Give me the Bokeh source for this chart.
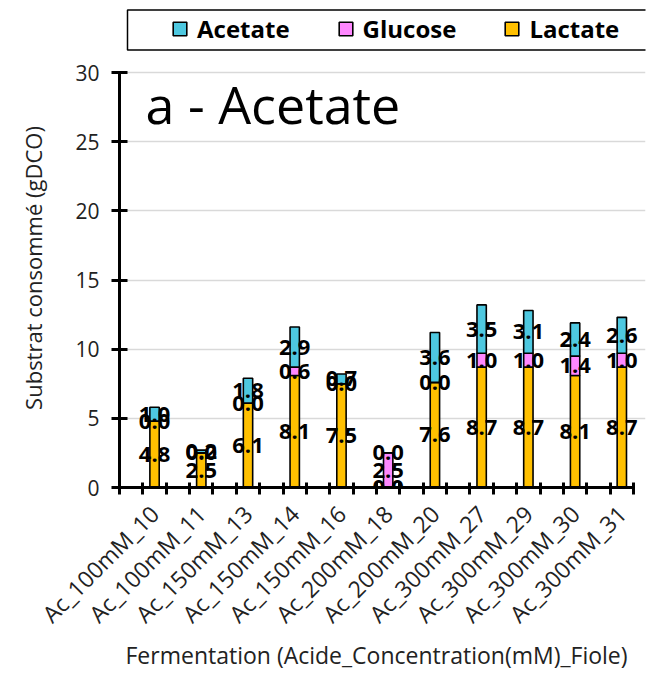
import math
from bokeh.plotting import figure
from bokeh.models import FixedTicker, Legend, LegendItem, Label, BoxAnnotation
from bokeh.core.properties import value
from bokeh.embed import file_html
from bokeh.resources import INLINE

categories = ["Ac_100mM_10", "Ac_100mM_11", "Ac_150mM_13", "Ac_150mM_14",
              "Ac_150mM_16", "Ac_200mM_18", "Ac_200mM_20", "Ac_300mM_27",
              "Ac_300mM_29", "Ac_300mM_30", "Ac_300mM_31"]
lactate = [4.8, 2.5, 6.1, 8.1, 7.5, 0.0, 7.6, 8.7, 8.7, 8.1, 8.7]
glucose = [0.0, 0.0, 0.0, 0.6, 0.0, 2.5, 0.0, 1.0, 1.0, 1.4, 1.0]
acetate = [1.0, 0.2, 1.8, 2.9, 0.7, 0.0, 3.6, 3.5, 3.1, 2.4, 2.6]
y_ticks = [0, 5, 10, 15, 20, 25, 30]

FONT = "Open Sans"
C_AC = "#4EC8E0"
C_GL = "#FF88FF"
C_LA = "#FFC000"

n = len(categories)
x = list(range(n))
lg = [a + b for a, b in zip(lactate, glucose)]
total = [a + b for a, b in zip(lg, acetate)]

# frame extends above the y axis (legend inside) and a little past the x axis end
Y_TOP = 30 * 479 / 415
X_END = -0.75 + 526 / (514 / n)

p = figure(width=661, height=697, x_range=(-0.75, X_END), y_range=(0, Y_TOP),
           output_backend="svg", toolbar_location=None,
           min_border_left=119, min_border_right=16,
           min_border_top=8, min_border_bottom=210)
p.outline_line_color = None

r_la = p.vbar(x=x, bottom=0, top=lactate, width=0.2, fill_color=C_LA,
              line_color="black", line_width=1.6)
r_gl = p.vbar(x=x, bottom=lactate, top=lg, width=0.2, fill_color=C_GL,
              line_color="black", line_width=1.6)
r_ac = p.vbar(x=x, bottom=lg, top=total, width=0.2, fill_color=C_AC,
              line_color="black", line_width=1.6)

def lab(bottoms, vals):
    return ([b + v / 2 for b, v in zip(bottoms, vals)], ["%.1f" % v for v in vals])

for bottoms, vals in ((([0] * n), lactate), (lactate, glucose), (lg, acetate)):
    ys, txt = lab(bottoms, vals)
    p.text(x=x, y=ys, text=txt, text_font=value(FONT), text_font_style="bold",
           text_font_size="22px", text_align="center", text_baseline="middle",
           text_color="black")

# grid
p.xgrid.grid_line_color = None
p.ygrid.ticker = FixedTicker(ticks=y_ticks)
p.ygrid.grid_line_color = "#d9d9d9"
p.ygrid.grid_line_width = 1.5

# y axis
p.yaxis.ticker = FixedTicker(ticks=y_ticks, minor_ticks=[])
p.yaxis.bounds = (0, 30)
p.yaxis.axis_line_width = 3
p.yaxis.axis_line_color = "black"
p.yaxis.major_tick_line_width = 3
p.yaxis.major_tick_line_color = "black"
p.yaxis.major_tick_in = 8
p.yaxis.major_tick_out = 8
p.yaxis.minor_tick_line_color = None
p.yaxis.major_label_text_font = FONT
p.yaxis.major_label_text_font_size = "21px"
p.yaxis.major_label_text_color = "#222222"
p.yaxis.major_label_standoff = 12
p.yaxis.axis_label = "Substrat consommé (gDCO)" + "\u00a0" * 7
p.yaxis.axis_label_text_font = FONT
p.yaxis.axis_label_text_font_size = "22px"
p.yaxis.axis_label_text_font_style = "normal"
p.yaxis.axis_label_text_color = "#222222"
p.yaxis.axis_label_standoff = 24

# x axis
half = [-0.75 + 0.5 * k for k in range(2 * n + 1)]
p.xaxis.ticker = FixedTicker(ticks=x, minor_ticks=half)
p.xaxis.bounds = (-0.75, n - 0.75)
p.xaxis.major_label_overrides = {i: c for i, c in zip(x, categories)}
p.xaxis.major_label_orientation = math.pi / 4
p.xaxis.axis_line_width = 3
p.xaxis.axis_line_color = "black"
p.xaxis.major_tick_in = 0
p.xaxis.major_tick_out = 0
p.xaxis.minor_tick_in = 5
p.xaxis.minor_tick_out = 7
p.xaxis.minor_tick_line_width = 3
p.xaxis.minor_tick_line_color = "black"
p.xaxis.major_label_text_font = FONT
p.xaxis.major_label_text_font_size = "23px"
p.xaxis.major_label_text_color = "#222222"
p.xaxis.major_label_standoff = 15
p.xaxis.axis_label = "Fermentation (Acide_Concentration(mM)_Fiole)" + "\u00a0" * 2
p.xaxis.axis_label_text_font = FONT
p.xaxis.axis_label_text_font_size = "23px"
p.xaxis.axis_label_text_font_style = "normal"
p.xaxis.axis_label_text_color = "#222222"
p.xaxis.axis_label_standoff = -5

# panel title inside plot
p.add_layout(Label(x=26, y=384, x_units="screen", y_units="screen",
                   text="a - Acetate", text_font=FONT,
                   text_font_size="52px", text_color="black",
                   text_baseline="alphabetic"))

# legend (inside the upper, axis-free part of the frame)
legend = Legend(items=[LegendItem(label="Acetate", renderers=[r_ac]),
                       LegendItem(label="Glucose", renderers=[r_gl]),
                       LegendItem(label="Lactate", renderers=[r_la])],
                orientation="horizontal", location=(52, 442),
                glyph_width=17, glyph_height=17, label_standoff=9,
                spacing=47, padding=4, margin=0,
                label_text_font=FONT, label_text_font_style="bold",
                label_text_font_size="24px", label_text_color="black",
                border_line_color=None, background_fill_alpha=0)
p.add_layout(legend)
p.add_layout(BoxAnnotation(left=8, right=700, bottom=437.5, top=477.5,
                           left_units="screen", right_units="screen",
                           bottom_units="screen", top_units="screen",
                           fill_color=None, fill_alpha=0,
                           line_color="black", line_alpha=1.0, line_width=1.5))

open("out.html", "w").write(file_html(p, INLINE))
